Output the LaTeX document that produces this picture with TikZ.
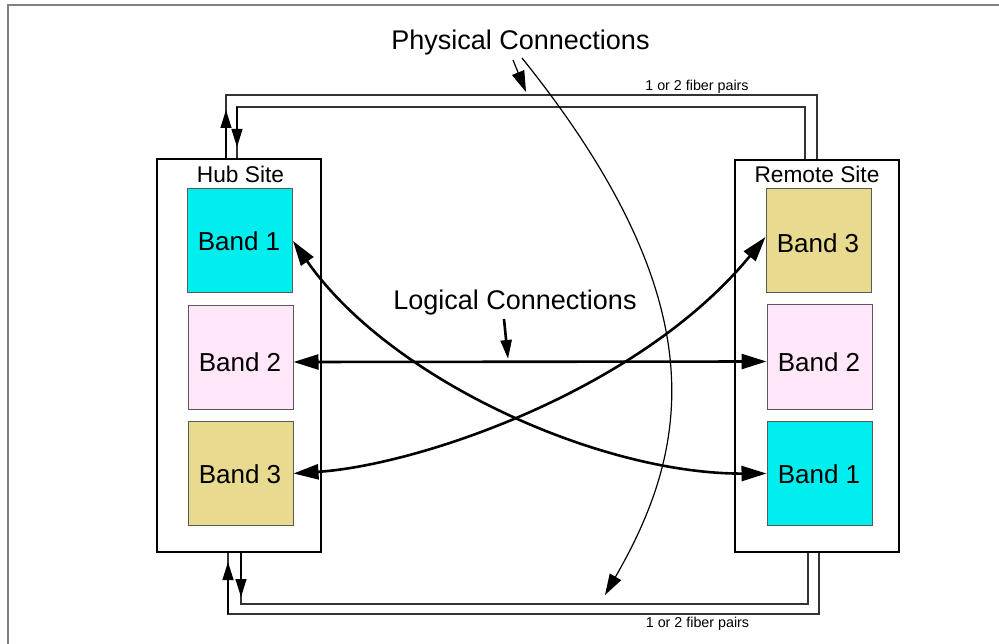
\documentclass[tikz,border=0pt]{standalone}
\usepackage{fontspec}
\setmainfont{Liberation Sans}
\usetikzlibrary{arrows.meta}
\definecolor{bandcyan}{RGB}{0,238,238}
\definecolor{bandpink}{RGB}{255,230,248}
\definecolor{bandtan}{RGB}{232,218,142}
\definecolor{framegray}{RGB}{128,128,128}
\tikzset{
  site/.style={draw=black, line width=2.2pt, minimum width=164pt, inner sep=0pt},
  band/.style={draw=black!65, line width=1pt, minimum width=105pt, minimum height=104pt, inner sep=0pt},
  bigtxt/.style={font=\fontsize{27}{32}\selectfont, inner sep=0pt, anchor=base},
  bandtxt/.style={font=\fontsize{26}{31}\selectfont, inner sep=0pt, anchor=base},
  sitetxt/.style={font=\fontsize{22.7}{27}\selectfont, inner sep=0pt, anchor=base},
  smalltxt/.style={font=\fontsize{14.3}{17}\selectfont, inner sep=0pt, anchor=base},
  fiber/.style={draw=black!80, line width=1.2pt},
  fibertip/.style={draw=black, line width=1.2pt, -{Triangle[length=18pt,width=11pt]}},
  logic/.style={line width=2.6pt, {Triangle[length=25pt,width=15pt]}-{Triangle[length=25pt,width=15pt]}},
  logicptr/.style={line width=2.6pt, -{Triangle[length=19pt,width=11pt]}},
  physptr/.style={line width=1.2pt, -{Triangle[length=21pt,width=13pt]}},
}
\begin{document}
\begin{tikzpicture}[x=1pt,y=-1pt]
\useasboundingbox (0,0) rectangle (999,644);

% page frame (left and top edges)
\draw[framegray, line width=2pt] (7.5,644) -- (7.5,5.5) -- (999,5.5);

% sites
\node[site, minimum height=393pt] (hub) at (239,355.5) {};
\node[site, minimum height=392pt] (remote) at (817,356) {};
\node[sitetxt] (hubt) at (240.5,183) {Hub Site};
\node[sitetxt] (remt) at (817,183) {Remote Site};

% bands at the hub site
\node[band, fill=bandcyan] (hb1) at (240,241) {};
\node[band, fill=bandpink] (hb2) at (240.5,357.5) {};
\node[band, fill=bandtan]  (hb3) at (240.5,473.5) {};
\node[bandtxt] (hb1t) at (239,251) {Band 1};
\node[bandtxt] (hb2t) at (240,372) {Band 2};
\node[bandtxt] (hb3t) at (240,483) {Band 3};

% bands at the remote site
\node[band, fill=bandtan]  (rb3) at (818.5,241) {};
\node[band, fill=bandpink] (rb2) at (819.5,357) {};
\node[band, fill=bandcyan] (rb1) at (819.5,473.5) {};
\node[bandtxt] (rb3t) at (818,253) {Band 3};
\node[bandtxt] (rb2t) at (819,372) {Band 2};
\node[bandtxt] (rb1t) at (819,483) {Band 1};

% fiber pairs, top
\coordinate (ta) at (226,95);
\coordinate (tb) at (817,95);
\coordinate (tc) at (237,107);
\coordinate (td) at (805,107);
\draw[fiber] (hub.north -| ta) -- (ta) -- (tb) -- (remote.north -| tb);
\draw[fiber] (hub.north -| tc) -- (tc) -- (td) -- (remote.north -| td);
\coordinate (tau) at (226,110);
\coordinate (tcd) at (237,147);
\draw[fibertip] (hub.north -| ta) -- (tau);
\draw[fibertip] (tc) -- (tcd);
\node[smalltxt] (toplbl) at (697,91) {1 or 2 fiber pairs};

% fiber pairs, bottom
\coordinate (ba) at (228,614);
\coordinate (bb) at (819,614);
\coordinate (bc) at (241,604);
\coordinate (bd) at (808,604);
\draw[fiber] (hub.south -| ba) -- (ba) -- (bb) -- (remote.south -| bb);
\draw[fiber] (hub.south -| bc) -- (bc) -- (bd) -- (remote.south -| bd);
\coordinate (bau) at (228,562);
\coordinate (bcd) at (241,597);
\draw[fibertip] (ba) -- (bau);
\draw[fibertip] (hub.south -| bc) -- (bcd);
\node[smalltxt] (botlbl) at (697.5,627) {1 or 2 fiber pairs};

% physical connections callout
\node[bigtxt] (phys) at (520.5,50) {Physical Connections};
\coordinate (ps1) at (513,60);
\coordinate (pe1) at (526,92);
\coordinate (ps2) at (522,58);
\coordinate (pe2) at (605,595);
\draw[physptr] (ps1) -- (pe1);
\draw[physptr] (ps2) .. controls (717,301) and (691,446) .. (pe2);

% logical connections
\draw[logic] ([yshift=-4.5pt]hb2.east) -- ([yshift=-4.5pt]rb2.west);
\draw[logic] (hb1.east) .. controls (390,380) and (600,474) .. (rb1.west);
\draw[logic] (hb3.east) .. controls (420,465) and (640,390) .. ([yshift=4pt]rb3.west);

\node[bigtxt] (logi) at (515,310) {Logical Connections};
\coordinate (ls) at (504,319);
\coordinate (le) at (508,359);
\draw[logicptr] (ls) -- (le);
\end{tikzpicture}
\end{document}
